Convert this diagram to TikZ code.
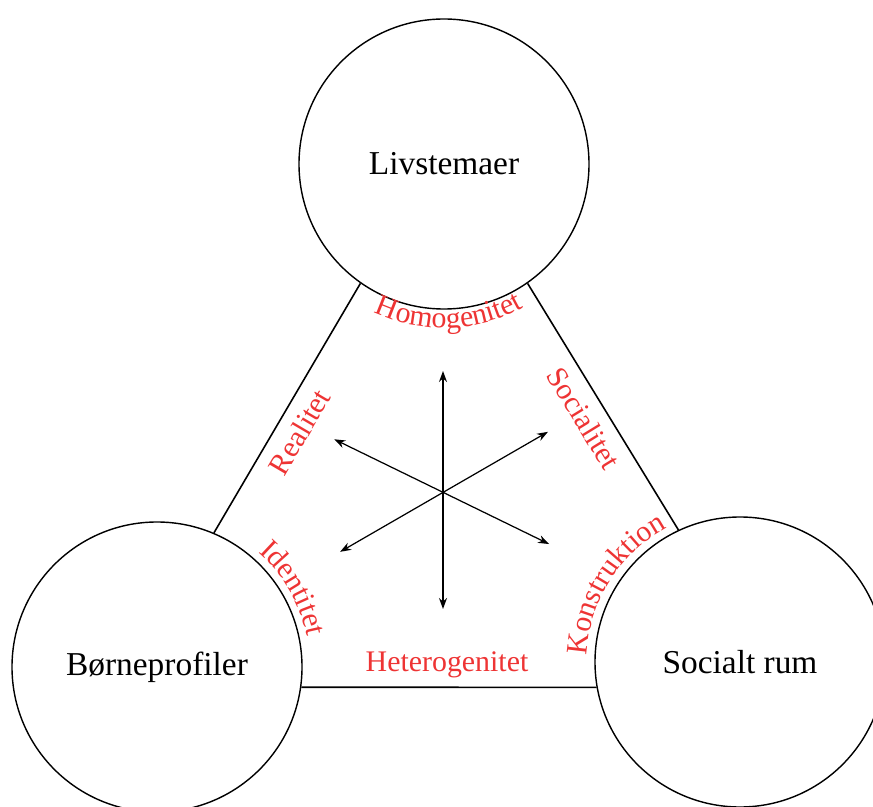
\documentclass[tikz,border=0pt]{standalone}
\usepackage{fontspec}
\setmainfont{Liberation Serif}
\definecolor{labelred}{RGB}{238, 52, 52}
\usepackage{tikz}
\usetikzlibrary{arrows.meta, positioning, calc, decorations.text}
\newcommand{\edgefont}{\fontsize{17}{20}\selectfont}
\tikzset{
    themecircle/.style={draw, circle, minimum size=5.8cm, inner sep=0pt, line width=0.8pt, font=\fontsize{19}{22}\selectfont},
    linkline/.style={line width=0.9pt},
    edgelabel/.style={font=\edgefont, text=labelred},
    crossarrow/.style={{Stealth[length=2.2mm, width=1.6mm]}-{Stealth[length=2.2mm, width=1.6mm]}, line width=0.7pt},
    arclabel/.style={decorate, decoration={text along path, text align=center, text color=labelred, text={|\edgefont|#1}}},
}

\begin{document}
\begin{tikzpicture}
                \useasboundingbox (0,0) rectangle (17.46,-16.14);
                % The three themes
                \node[themecircle] (livs) at (8.88, -3.28) {Livstemaer};
                \node[themecircle] (borne) at (3.14, -13.34) {Børneprofiler};
                \node[themecircle] (social) at (14.8, -13.24) {Socialt rum};

                % Triangle sides
                \draw[linkline] (borne.67) -- node[edgelabel, sloped, below=3pt, pos=0.45] (realitet) {Realitet} (livs.235);
                \draw[linkline] (livs.305) -- node[edgelabel, sloped, below=3pt, pos=0.5] (socialitet) {Socialitet} (social.115);
                \draw[linkline] (borne.352) -- (social.190);
                \node[edgelabel] (hetero) at (8.94, -13.3) {Heterogenitet};

                % Curved labels round the circles
                \path[arclabel=Homogenitet] ($(livs.center)+(234:3.28)$) arc[start angle=234, end angle=310, radius=3.28];
                \path[arclabel=Identitet] ($(borne.center)+(62:3.06)$) arc[start angle=62, end angle=-2, radius=3.06];
                \path[arclabel=Konstruktion] ($(social.center)+(192:3.06)$) arc[start angle=192, end angle=104, radius=3.06];

                % Arrows through the middle
                \coordinate (hub) at (8.86, -9.8);
                \coordinate (tipN) at ($(hub)+(90:2.38)$);
                \coordinate (tipS) at ($(hub)+(270:2.38)$);
                \coordinate (tipNW) at ($(hub)+(155:2.4)$);
                \coordinate (tipSE) at ($(hub)+(-27:2.38)$);
                \coordinate (tipSW) at ($(hub)+(211:2.4)$);
                \coordinate (tipNE) at ($(hub)+(29:2.4)$);
                \draw[crossarrow] (tipN) -- (tipS);
                \draw[crossarrow] (tipNW) -- (tipSE);
                \draw[crossarrow] (tipSW) -- (tipNE);
            \end{tikzpicture}
\end{document}
